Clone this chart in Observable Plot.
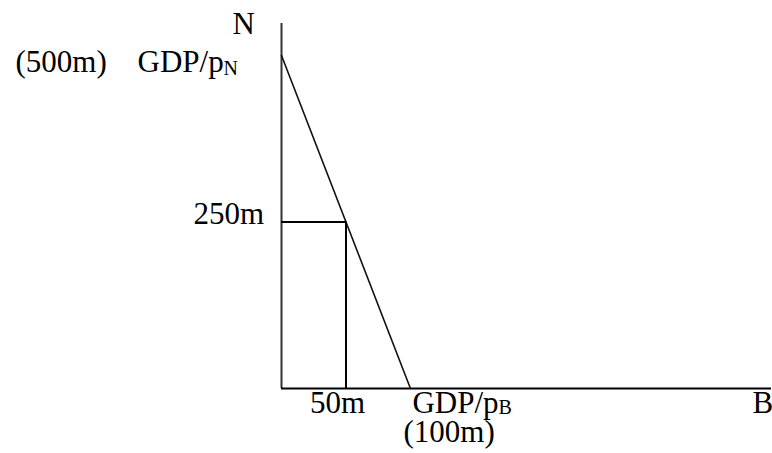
<!DOCTYPE html>
<html><head><meta charset="utf-8">
<script src="https://cdn.jsdelivr.net/npm/d3@7"></script>
<script src="https://cdn.jsdelivr.net/npm/@observablehq/plot@0.6"></script>
<style>html,body{margin:0;padding:0;background:#fff;overflow:hidden}</style>
</head><body><div id="chart"></div>
<script>
// Data
const budgetB = [0, 100];      // quantity of B (m)
const budgetN = [500, 0];      // quantity of N (m)
const chosenB = [50];
const chosenN = [250];
const axisNames = ["N", "B"];
const interceptLabels = ["(500m)", "GDP/p", "N", "GDP/p", "B", "(100m)"];
const tickLabels = ["250m", "50m"];

const font = "'Liberation Serif', 'Times New Roman', serif";
const budget = budgetB.map((b, i) => ({b, n: budgetN[i]}));
const xMax = 380, yMax = 548;
const big = 31, small = 20;

function label(text, x, y, opts) {
  return Plot.text([text], {
    x: () => x, y: () => y, text: d => d,
    textAnchor: "start", lineAnchor: "bottom",
    fontSize: big, fill: "#000", ...opts
  });
}

const chart = Plot.plot({
  width: 772, height: 453,
  marginLeft: 281, marginRight: 1, marginTop: 23, marginBottom: 65,
  x: {domain: [0, xMax], axis: null},
  y: {domain: [0, yMax], axis: null},
  style: {fontFamily: font, background: "white", overflow: "visible"},
  marks: [
    Plot.ruleX([0], {y1: 0, y2: yMax, stroke: "#333", strokeWidth: 2}),
    Plot.ruleY([0], {x1: 0, x2: xMax, stroke: "#000", strokeWidth: 2}),
    Plot.line(budget, {x: "b", y: "n", stroke: "#111", strokeWidth: 1.6}),
    Plot.ruleY(chosenN, {x1: 0, x2: () => chosenB[0], stroke: "#000", strokeWidth: 2}),
    Plot.ruleX(chosenB, {y1: 0, y2: () => chosenN[0], stroke: "#000", strokeWidth: 2}),
    // axis names
    label(axisNames[0], 0, yMax, {dx: -49, dy: 10}),
    label(axisNames[1], xMax, 0, {dx: -19, dy: 24}),
    // vertical intercept
    label(interceptLabels[0], 0, budgetN[0], {dx: -266, dy: 17}),
    label(interceptLabels[1], 0, budgetN[0], {dx: -144, dy: 17}),
    label(interceptLabels[2], 0, budgetN[0], {dx: -58, dy: 20, fontSize: small}),
    // horizontal intercept
    label(interceptLabels[3], budgetB[1], 0, {dx: 2, dy: 24}),
    label(interceptLabels[4], budgetB[1], 0, {dx: 88, dy: 25, fontSize: small}),
    label(interceptLabels[5], budgetB[1], 0, {dx: -7, dy: 53}),
    // chosen bundle ticks
    label(tickLabels[0], 0, chosenN[0], {dx: -88, dy: 2}),
    label(tickLabels[1], chosenB[0], 0, {dx: -36, dy: 24})
  ]
});
document.getElementById("chart").append(chart);
</script>
</body></html>
